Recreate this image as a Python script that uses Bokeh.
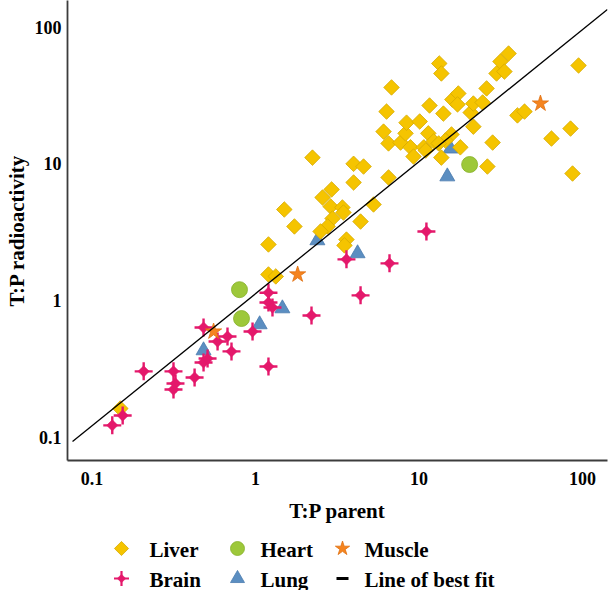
import numpy as np
from bokeh.plotting import figure
from bokeh.layouts import column
from bokeh.models import Range1d, FixedTicker, CustomJSTickFormatter
from bokeh.core.properties import value
from bokeh.embed import file_html
from bokeh.resources import INLINE

# ---- data ----
liver_x = [0.149, 1.20, 1.20, 1.33, 1.50, 1.73, 2.23, 2.57, 2.92, 2.88, 3.40, 3.45, 2.96, 2.76,
           2.50, 3.60, 3.50, 3.98, 4.58, 3.98, 4.39, 5.27, 6.51, 6.51, 6.07, 6.33, 6.79, 7.71,
           8.27, 8.39, 10.1, 8.87, 9.26, 10.7, 11.0, 11.4, 12.3, 11.6, 13.3, 13.7, 14.1, 13.7,
           15.8, 14.5, 13.2, 16.0, 17.4, 17.2, 17.9, 20.7, 21.5, 24.5, 21.5, 25.9, 26.2, 28.2,
           29.8, 31.5, 33.3, 35.3, 40.0, 44.2, 64.6, 84.5, 86.9, 94.6]
liver_y = [0.162, 2.57, 1.55, 1.50, 4.63, 3.48, 11.1, 5.67, 6.49, 4.87, 4.79, 4.40, 3.98, 3.48,
           3.20, 2.79, 2.53, 10.0, 9.55, 7.30, 3.78, 5.04, 7.94, 14.1, 17.2, 24.1, 36.2, 14.3,
           16.7, 20.0, 20.4, 13.2, 11.3, 13.2, 12.5, 16.7, 14.6, 26.7, 54.2, 45.8, 23.3, 11.1,
           16.4, 14.8, 14.1, 29.5, 32.7, 27.2, 13.2, 23.7, 27.6, 28.1, 18.7, 35.6, 9.55, 14.3,
           45.8, 56.0, 47.3, 64.1, 22.6, 24.1, 15.3, 18.1, 8.49, 52.4]

brain_x = [0.133, 0.154, 0.207, 0.315, 0.324, 0.315, 0.424, 0.481, 0.586, 0.674, 0.713, 0.481,
           0.509, 0.959, 1.20, 1.20, 1.27, 1.20, 2.20, 3.60, 4.39, 6.60, 11.1]
brain_y = [0.122, 0.144, 0.303, 0.303, 0.247, 0.223, 0.273, 0.634, 0.501, 0.545, 0.424, 0.352,
           0.376, 0.593, 1.14, 0.967, 0.889, 0.329, 0.777, 2.00, 1.09, 1.87, 3.20]

lung_x = [0.481, 1.06, 1.46, 2.39, 4.21, 14.9, 15.6]
lung_y = [0.431, 0.668, 0.874, 2.75, 2.21, 8.07, 12.9]

heart_x = [0.798, 0.821, 20.4]
heart_y = [1.20, 0.738, 9.88]

muscle_x = [0.554, 1.81, 55.3]
muscle_y = [0.593, 1.55, 27.6]

fit_x = [0.076, 142.0]
fit_y = [0.093, 134.5]

tick_values = [0.1, 1, 10, 100]

legend_labels = [["Liver", "Heart", "Muscle"], ["Brain", "Lung", "Line of best fit"]]

# ---- styling ----
SERIF = "Liberation Serif"
LIVER_FILL, LIVER_LINE = "#F5C400", "#D6AA00"
BRAIN = "#E4186B"
HEART_FILL, HEART_LINE = "#9DC83A", "#86B02A"
LUNG_FILL, LUNG_LINE = "#5B8EC1", "#4A7BAE"
MUSCLE_FILL, MUSCLE_LINE = "#F5841F", "#E07010"

STYLE = {
    "Liver": dict(marker="square", angle=np.pi / 4, size=11, fill_color=LIVER_FILL,
                  line_color=LIVER_LINE, line_width=0.8),
    "Lung": dict(marker="triangle", size=15, fill_color=LUNG_FILL, line_color=LUNG_LINE,
                 line_width=0.8),
    "Heart": dict(marker="circle", size=16, fill_color=HEART_FILL, line_color=HEART_LINE,
                  line_width=0.8),
    "Muscle": dict(marker="star", size=17, fill_color=MUSCLE_FILL, line_color=MUSCLE_LINE,
                   line_width=0.8),
    "BrainArms": dict(marker="cross", size=18, line_color=BRAIN, line_width=2.4),
    "BrainCore": dict(marker="square", angle=np.pi / 4, size=8, fill_color=BRAIN,
                      line_color=BRAIN, line_width=0.5),
}

FRAME_L, FRAME_R = 67, 607
W, H_MAIN, H_LEG = 613, 530, 60

# ---- main chart ----
p = figure(width=W, height=H_MAIN, x_axis_type="log", y_axis_type="log",
           x_range=Range1d(0.0708, 142.2), y_range=Range1d(0.0675, 156.6),
           output_backend="svg", toolbar_location=None,
           min_border_left=FRAME_L, min_border_right=W - FRAME_R,
           min_border_top=0, min_border_bottom=70)
p.outline_line_color = None
p.grid.visible = False

for ax in (p.xaxis, p.yaxis):
    ax.ticker = FixedTicker(ticks=tick_values, minor_ticks=[])
    ax.formatter = CustomJSTickFormatter(code="return String(tick);")
    ax.axis_line_color = "#3c3c3c"
    ax.axis_line_width = 1.8
    ax.major_tick_line_color = None
    ax.minor_tick_line_color = None
    ax.major_tick_out = 0
    ax.major_tick_in = 0
    ax.minor_tick_out = 0
    ax.minor_tick_in = 0
    ax.major_label_text_font = SERIF
    ax.major_label_text_font_style = "bold"
    ax.major_label_text_font_size = "18px"
    ax.major_label_text_color = "black"
    ax.axis_label_text_font = SERIF
    ax.axis_label_text_font_style = "bold"
    ax.axis_label_text_font_size = "21px"
    ax.axis_label_text_color = "black"

p.xaxis.axis_label = "T:P parent"
p.xaxis.major_label_standoff = 11
p.xaxis.axis_label_standoff = 11
p.yaxis.axis_label = "T:P radioactivity"
p.yaxis.major_label_standoff = 6
p.yaxis.axis_label_standoff = 3

p.scatter(lung_x, lung_y, **STYLE["Lung"])
p.scatter(liver_x, liver_y, **STYLE["Liver"])
p.scatter(heart_x, heart_y, **STYLE["Heart"])
p.scatter(brain_x, brain_y, **STYLE["BrainArms"])
p.scatter(brain_x, brain_y, **STYLE["BrainCore"])
p.scatter(muscle_x, muscle_y, **STYLE["Muscle"])
p.line(fit_x, fit_y, line_color="black", line_width=1.3)

# ---- legend strip (x in page pixels, y in pixels from the strip's top) ----
leg = figure(width=W, height=H_LEG, x_range=Range1d(FRAME_L, FRAME_R),
             y_range=Range1d(H_LEG, 0),
             output_backend="svg", toolbar_location=None,
             min_border_left=FRAME_L, min_border_right=W - FRAME_R,
             min_border_top=0, min_border_bottom=0,
             x_axis_location=None, y_axis_location=None)
leg.outline_line_color = None
leg.grid.visible = False

swatch_x = [121, 237, 342]
text_x = [149, 260, 364]
row_y = [18, 48]


def swatch(name, x, y):
    if name == "Brain":
        s1 = dict(STYLE["BrainArms"]); s1["size"] = 15; s1["line_width"] = 2.2
        s2 = dict(STYLE["BrainCore"]); s2["size"] = 6
        leg.scatter([x], [y], **s1)
        leg.scatter([x], [y], **s2)
    elif name == "Line of best fit":
        leg.scatter([x], [y], marker="dash", size=12, line_color="black", line_width=3)
    else:
        s = dict(STYLE[name])
        s["size"] = {"Liver": 10, "Heart": 14, "Muscle": 15, "Lung": 14}[name]
        leg.scatter([x], [y], **s)


for r, row in enumerate(legend_labels):
    for c, name in enumerate(row):
        swatch(name, swatch_x[c], row_y[r])
    leg.text([text_x[c] for c in range(len(row))], [row_y[r] + 1] * len(row), text=row,
             text_font=value(SERIF), text_font_style="bold", text_font_size="21px",
             text_color="black", text_baseline="middle", text_align="left")

layout = column(p, leg, spacing=0)
open("out.html", "w").write(file_html(layout, INLINE))
